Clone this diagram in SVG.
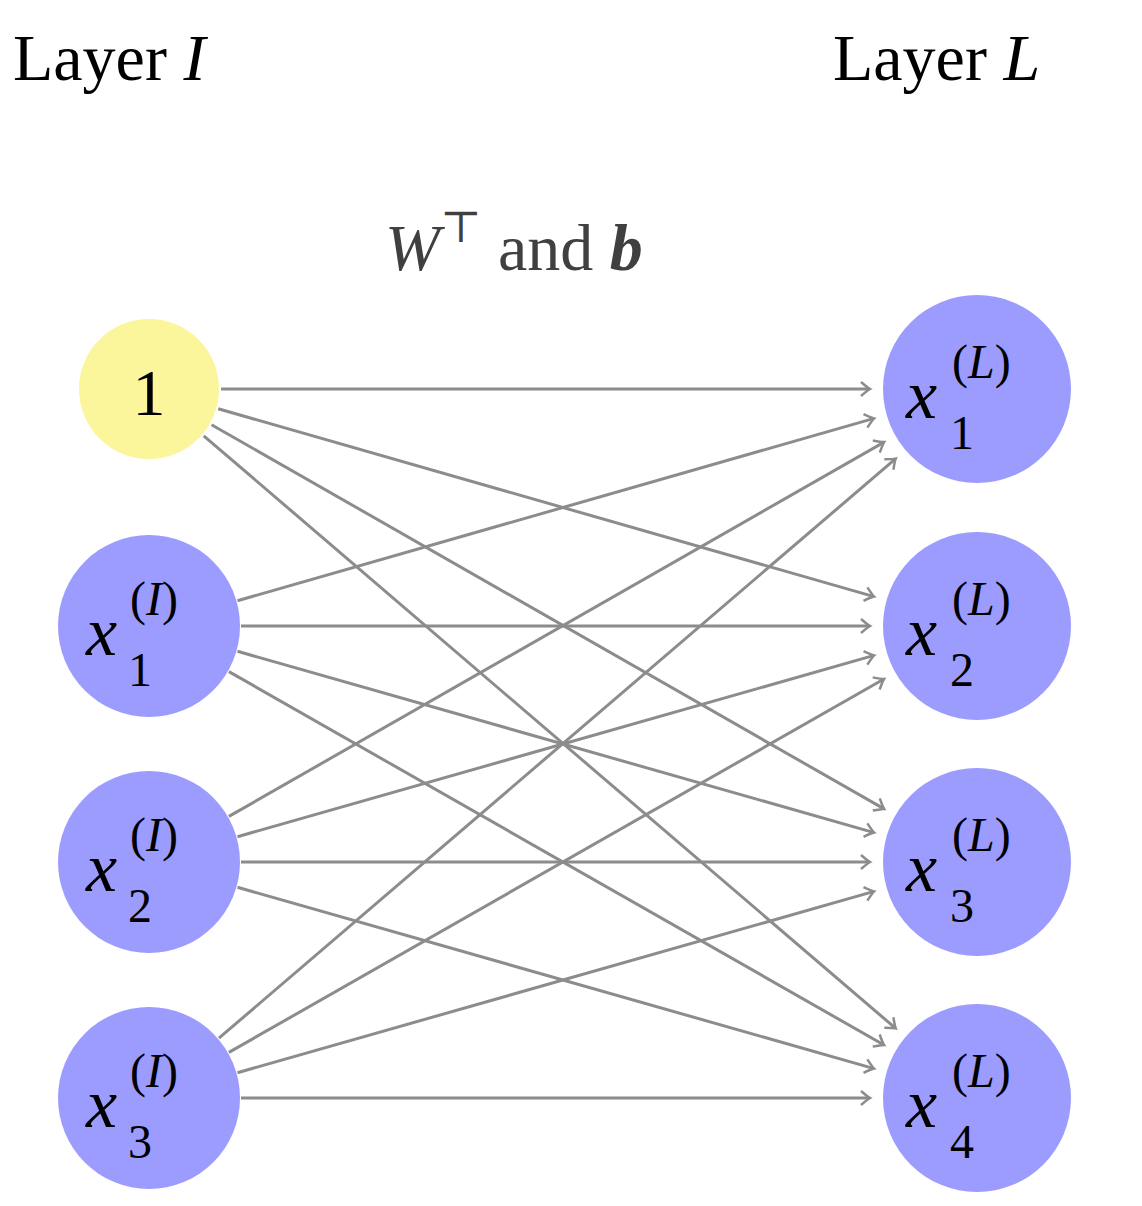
<svg xmlns="http://www.w3.org/2000/svg" width="1142" height="1206" viewBox="0 0 1142 1206">
<style>
text{font-family:"Liberation Serif","DejaVu Serif",serif;fill:#000}
.t{font-size:66px}
.i{font-style:italic}
.n{fill:#9c9cff}
.b{fill:#fbf59b}
.x{font-size:70px;font-style:italic}
.s{font-size:48px}
#edges line{stroke:#8c8c8c;stroke-width:3;marker-end:url(#ah)}
</style>
<defs>
<marker id="ah" markerUnits="userSpaceOnUse" markerWidth="20" markerHeight="20" viewBox="-10 -10 20 20" refX="0" refY="0" orient="auto">
<path d="M-9,-7 Q-2,-1 0,0 Q-2,1 -9,7" fill="none" stroke="#8c8c8c" stroke-width="2.5"/>
</marker>
</defs>
<text class="t" x="13" y="80">Layer <tspan class="i">I</tspan></text>
<text class="t" x="833" y="80">Layer <tspan class="i">L</tspan></text>
<text class="t" x="385" y="270" style="fill:#404040"><tspan class="i" style="fill:#404040">W</tspan><tspan dy="-28" font-size="44" style="fill:#404040">⊤</tspan><tspan dy="28" style="fill:#404040"> and </tspan><tspan font-weight="bold" class="i" style="fill:#404040">b</tspan></text>
<g id="edges">
<line x1="221" y1="389" x2="870" y2="389"/>
<line x1="218.2" y1="408.8" x2="874.1" y2="596.6"/>
<line x1="211.5" y1="424.7" x2="884.1" y2="808.9"/>
<line x1="203.7" y1="435.8" x2="895.7" y2="1028.4"/>
<line x1="237.5" y1="600.7" x2="874.1" y2="418.4"/>
<line x1="241" y1="626" x2="870" y2="626"/>
<line x1="237.5" y1="651.3" x2="874.1" y2="832.6"/>
<line x1="228.9" y1="671.6" x2="884" y2="1045"/>
<line x1="228.9" y1="816.4" x2="884.1" y2="442.1"/>
<line x1="237.5" y1="836.7" x2="874.1" y2="655.4"/>
<line x1="241" y1="862" x2="870" y2="862"/>
<line x1="237.5" y1="887.3" x2="874.1" y2="1068.6"/>
<line x1="218.9" y1="1038.2" x2="895.7" y2="458.6"/>
<line x1="228.9" y1="1052.4" x2="884" y2="679"/>
<line x1="237.5" y1="1072.7" x2="874.1" y2="891.4"/>
<line x1="241" y1="1098" x2="870" y2="1098"/>
</g>
<g id="bias"><circle class="b" cx="149" cy="389" r="70"/><text class="t" x="149" y="415" text-anchor="middle">1</text></g>
<g id="xI1"><circle class="n" cx="149" cy="626" r="91"/><text class="x" x="86" y="655">x</text><text class="s" x="130" y="615">(<tspan class="i">I</tspan>)</text><text class="s" x="128" y="686">1</text></g>
<g id="xI2"><circle class="n" cx="149" cy="862" r="91"/><text class="x" x="86" y="891">x</text><text class="s" x="130" y="851">(<tspan class="i">I</tspan>)</text><text class="s" x="128" y="922">2</text></g>
<g id="xI3"><circle class="n" cx="149" cy="1098" r="91"/><text class="x" x="86" y="1127">x</text><text class="s" x="130" y="1087">(<tspan class="i">I</tspan>)</text><text class="s" x="128" y="1158">3</text></g>
<g id="xL1"><circle class="n" cx="977" cy="389" r="94"/><text class="x" x="906" y="418">x</text><text class="s" x="952" y="378">(<tspan class="i">L</tspan>)</text><text class="s" x="950" y="449">1</text></g>
<g id="xL2"><circle class="n" cx="977" cy="626" r="94"/><text class="x" x="906" y="655">x</text><text class="s" x="952" y="615">(<tspan class="i">L</tspan>)</text><text class="s" x="950" y="686">2</text></g>
<g id="xL3"><circle class="n" cx="977" cy="862" r="94"/><text class="x" x="906" y="891">x</text><text class="s" x="952" y="851">(<tspan class="i">L</tspan>)</text><text class="s" x="950" y="922">3</text></g>
<g id="xL4"><circle class="n" cx="977" cy="1098" r="94"/><text class="x" x="906" y="1127">x</text><text class="s" x="952" y="1087">(<tspan class="i">L</tspan>)</text><text class="s" x="950" y="1158">4</text></g>
</svg>
